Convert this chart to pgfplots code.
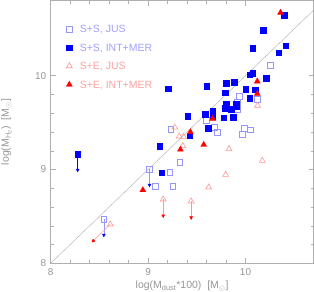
\documentclass[border=0pt]{standalone}
\usepackage{pgfplots}
\pgfplotsset{compat=1.18}
\usepackage{fontspec}
\setmainfont{Liberation Sans}
\usetikzlibrary{arrows.meta}
\definecolor{axgray}{RGB}{175,175,175}
\definecolor{txtgray}{RGB}{150,150,150}
\definecolor{lblue}{RGB}{150,150,255}
\definecolor{dblue}{RGB}{0,0,255}
\definecolor{lred}{RGB}{255,150,150}
\definecolor{dred}{RGB}{255,0,0}
\definecolor{legblue}{RGB}{160,160,255}
\definecolor{legred}{RGB}{255,160,160}
\begin{document}
\begin{tikzpicture}
\begin{axis}[
  scale only axis, width=263pt, height=262.6pt,
  xmin=8, xmax=10.7, ymin=8, ymax=10.8,
  xtick={8,9,10}, ytick={8,9,10},
  minor x tick num=4, minor y tick num=4,
  tick align=inside, tick pos=both,
  major tick length=5pt, minor tick length=3pt,
  axis line style={axgray, line width=0.5pt},
  every tick/.style={axgray, line width=0.5pt},
  /pgf/number format/assume math mode=true,
  ticklabel style={text=txtgray, font=\fontsize{10}{12}\selectfont},
  xticklabel style={yshift=-2pt},
  yticklabel style={xshift=-1pt},
  label style={text=txtgray, font=\fontsize{10.5}{12}\selectfont},
  xlabel={log(M\textsubscript{dust}*100) \ [M\textsubscript{\(\odot\)}]},
  ylabel={log(M\textsubscript{H\textsubscript{2}}) \ [M\textsubscript{\(\odot\)}]},
  xlabel style={at={(rel axis cs:0.5,0)}, anchor=north, yshift=-14pt},
  ylabel style={at={(axis description cs:-0.168,0.5)}, anchor=center, rotate=0},
  legend style={draw=none, fill=none, at={(axis description cs:0.059,0.907)}, anchor=north west,
    row sep=11.2pt, inner sep=0pt,
    font=\fontsize{10.5}{11}\selectfont,
    nodes={inner sep=0pt, text depth=0pt},
    /tikz/every odd column/.append style={column sep=7.5pt}},
  legend cell align=left,
  legend image code/.code={\draw[#1] plot coordinates {(0.12cm,0cm)};},
  clip=false,
]
% one-to-one line
\addplot[axgray, line width=0.4pt, forget plot] coordinates {(8,8) (10.7,10.7)};
% upper-limit arrows
\addplot[dblue, line width=0.5pt, -{Triangle[length=3.5pt,width=3.5pt]}, forget plot] coordinates {(8.277,9.165) (8.277,8.97)};
\addplot[lblue, line width=0.5pt, -{Triangle[length=3.5pt,width=3.5pt,color=dblue]}, forget plot] coordinates {(9.014,9.002) (9.014,8.81)};
\addplot[lblue, line width=0.5pt, -{Triangle[length=3.5pt,width=3.5pt,color=dblue]}, forget plot] coordinates {(8.546,8.469) (8.546,8.277)};
\addplot[lred, line width=0.5pt, -{Triangle[length=3.5pt,width=3.5pt,color=dred]}, forget plot] coordinates {(8.612,8.416) (8.42,8.222)};
\addplot[lred, line width=0.5pt, -{Triangle[length=3.5pt,width=3.5pt,color=dred]}, forget plot] coordinates {(9.155,8.682) (9.155,8.482)};
\addplot[lred, line width=0.5pt, -{Triangle[length=3.5pt,width=3.5pt,color=dred]}, forget plot] coordinates {(9.442,8.661) (9.442,8.462)};
% S+S, JUS
\addplot[only marks, mark=square, mark size=2.9pt, lblue, mark options={line width=0.6pt}] coordinates {
(10.251,10.111) (9.940,9.780) (9.913,9.714) (10.124,9.748) (9.919,9.642)
(9.601,9.522) (9.677,9.450) (9.233,9.432) (9.708,9.400) (9.991,9.442)
(10.052,9.424) (9.964,9.378) (9.325,9.073) (9.222,8.970) (9.076,8.824)
(9.253,8.824) (9.014,9.002) (8.546,8.469)
};
\addlegendentry{\textcolor{legblue}{S+S, JUS}}
% S+S, INT+MER
\addplot[only marks, mark=square*, mark size=2.7pt, dblue] coordinates {
(10.398,10.644) (10.182,10.484) (10.073,10.295) (10.411,10.320) (10.339,10.245)
(10.073,10.029) (10.046,10.011) (10.213,9.975) (9.803,9.922) (9.885,9.930)
(9.601,9.890) (9.206,9.861) (10.001,9.855) (10.100,9.848) (9.793,9.819)
(10.042,9.759) (9.803,9.701) (9.903,9.698) (9.903,9.677) (9.793,9.652)
(9.855,9.645) (9.663,9.627) (9.585,9.589) (9.663,9.570) (9.404,9.567)
(9.773,9.552) (9.875,9.556) (9.616,9.439) (9.427,9.360) (9.117,9.247)
(9.137,8.963) (8.277,9.165)
};
\addlegendentry{\textcolor{legblue}{S+S, INT+MER}}
% S+E, JUS
\addplot[only marks, mark=triangle, mark size=3.4pt, lred, mark options={line width=0.6pt}] coordinates {
(10.124,9.682) (9.274,9.448) (9.319,9.354) (9.363,9.350) (9.356,9.251)
(9.831,9.219) (10.172,9.094) (9.796,8.945) (9.622,8.810) (9.155,8.682)
(9.442,8.661) (8.612,8.416)
};
\addlegendentry{\textcolor{legred}{S+E, JUS}}
% S+E, INT+MER
\addplot[only marks, mark=triangle*, mark size=3.4pt, dred] coordinates {
(10.360,10.673) (10.121,9.940) (10.121,9.808) (9.663,9.542) (9.434,9.400)
(9.571,9.264) (9.332,9.213) (8.946,8.781)
};
\addlegendentry{\textcolor{legred}{S+E, INT+MER}}
\coordinate (O) at (rel axis cs:0,0);
\end{axis}
\pgfresetboundingbox
\path[use as bounding box] ([xshift=-50.7pt,yshift=-28.7pt]O) rectangle ([xshift=263.3pt,yshift=263.3pt]O);
\end{tikzpicture}
\end{document}
